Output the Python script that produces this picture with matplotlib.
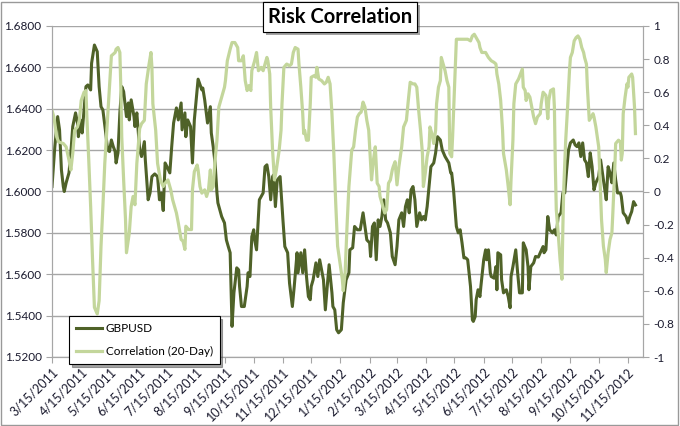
import pandas as pd
import matplotlib
matplotlib.use("Agg")
import matplotlib.pyplot as plt
import matplotlib.patheffects as pe
from matplotlib.patches import Rectangle

start = pd.Timestamp("2011-03-15")

# days since 3/15/2011
gbp_day = [0, 3, 6, 8, 10, 12, 13, 15, 18, 20, 22, 25, 27, 28, 30, 32, 34, 36, 38, 41,
           42, 45, 48, 50, 52, 54, 57, 59, 61, 63, 65, 67, 68, 70, 72, 74, 76, 79, 81, 82,
           84, 87, 88, 90, 93, 95, 98, 99, 102, 104, 106, 109, 112, 114, 116, 118, 120, 122, 125, 127,
           129, 132, 134, 137, 138, 141, 142, 144, 147, 149, 151, 155, 159, 160, 162, 165, 168, 169, 171, 173,
           175, 176, 180, 183, 185, 187, 189, 191, 193, 196, 198, 199, 201, 204, 207, 208, 210, 212, 214, 215,
           217, 220, 222, 224, 226, 228, 230, 232, 234, 235, 237, 239, 242, 244, 245, 247, 250, 252, 255, 257,
           260, 261, 264, 266, 268, 270, 272, 274, 275, 277, 280, 282, 284, 286, 288, 290, 292, 294, 297, 298,
           300, 302, 304, 307, 309, 312, 315, 316, 319, 321, 324, 327, 330, 332, 334, 337, 338, 340, 342, 344,
           346, 348, 350, 352, 354, 356, 359, 361, 364, 366, 368, 371, 373, 375, 377, 379, 381, 383, 385, 387,
           390, 392, 394, 396, 398, 400, 402, 405, 407, 409, 412, 414, 417, 419, 421, 423, 424, 426, 429, 431,
           433, 435, 437, 439, 441, 444, 446, 447, 449, 450, 452, 454, 455, 458, 460, 461, 463, 465, 466, 469,
           471, 472, 473, 476, 477, 479, 482, 484, 486, 487, 489, 492, 494, 496, 499, 500, 503, 505, 506, 508,
           511, 513, 516, 518, 521, 522, 524, 526, 528, 531, 533, 535, 537, 540, 542, 544, 546, 548, 550, 553,
           555, 557, 559, 561, 563, 565, 567, 569, 571, 573, 575, 577, 580, 582, 584, 586, 588, 590, 592, 594,
           596, 598, 600, 603, 604, 606, 609, 611, 613, 615, 617, 619]
gbp_usd = [1.6024, 1.6217, 1.6362, 1.6298, 1.6104, 1.6024, 1.6000, 1.6042, 1.6090, 1.6187,
           1.6314, 1.6380, 1.6331, 1.6265, 1.6346, 1.6283, 1.6394, 1.6507, 1.6515, 1.6491,
           1.6620, 1.6708, 1.6676, 1.6507, 1.6410, 1.6394, 1.6283, 1.6201, 1.6193, 1.6249,
           1.6217, 1.6193, 1.6138, 1.6187, 1.6380, 1.6507, 1.6483, 1.6362, 1.6428, 1.6346,
           1.6443, 1.6362, 1.6314, 1.6380, 1.6201, 1.6169, 1.6241, 1.6153, 1.5960, 1.5993,
           1.6072, 1.6085, 1.6072, 1.5960, 1.5993, 1.5908, 1.6138, 1.6120, 1.6090, 1.6217,
           1.6331, 1.6404, 1.6346, 1.6428, 1.6298, 1.6380, 1.6265, 1.6346, 1.6314, 1.6138,
           1.6346, 1.6543, 1.6491, 1.6500, 1.6443, 1.6331, 1.6410, 1.6283, 1.6217, 1.6138,
           1.5993, 1.5945, 1.5879, 1.5848, 1.5766, 1.5734, 1.5704, 1.5348, 1.5510, 1.5631,
           1.5621, 1.5541, 1.5444, 1.5444, 1.5541, 1.5607, 1.5589, 1.5782, 1.5815, 1.5766,
           1.5718, 1.5960, 1.5976, 1.5993, 1.6120, 1.6129, 1.6072, 1.5960, 1.6072, 1.6080,
           1.5927, 1.6056, 1.6072, 1.5927, 1.5863, 1.5734, 1.5704, 1.5557, 1.5444, 1.5541,
           1.5704, 1.5607, 1.5704, 1.5607, 1.5718, 1.5589, 1.5492, 1.5477, 1.5541, 1.5573,
           1.5655, 1.5589, 1.5670, 1.5621, 1.5573, 1.5428, 1.5541, 1.5646, 1.5510, 1.5444,
           1.5428, 1.5332, 1.5317, 1.5332, 1.5462, 1.5573, 1.5607, 1.5718, 1.5728, 1.5831,
           1.5815, 1.5815, 1.5897, 1.5831, 1.5766, 1.5752, 1.5686, 1.5831, 1.5848, 1.5670,
           1.5863, 1.5831, 1.5879, 1.5960, 1.5863, 1.5848, 1.5800, 1.5686, 1.5646, 1.5734,
           1.5863, 1.5897, 1.5831, 1.5927, 1.5960, 1.5897, 1.6008, 1.6024, 1.5960, 1.5831,
           1.5897, 1.5863, 1.5879, 1.5863, 1.5927, 1.6024, 1.6120, 1.6138, 1.6187, 1.6265,
           1.6249, 1.6201, 1.6169, 1.6153, 1.6138, 1.6090, 1.6090, 1.6008, 1.5831, 1.5800,
           1.5815, 1.5752, 1.5679, 1.5679, 1.5670, 1.5541, 1.5380, 1.5372, 1.5396, 1.5477,
           1.5525, 1.5492, 1.5541, 1.5670, 1.5718, 1.5670, 1.5718, 1.5607, 1.5589, 1.5581,
           1.5637, 1.5525, 1.5704, 1.5694, 1.5573, 1.5510, 1.5525, 1.5492, 1.5438, 1.5589,
           1.5637, 1.5718, 1.5607, 1.5510, 1.5510, 1.5752, 1.5718, 1.5637, 1.5525, 1.5637,
           1.5655, 1.5686, 1.5683, 1.5704, 1.5734, 1.5704, 1.5718, 1.5879, 1.5815, 1.5800,
           1.5815, 1.5790, 1.5879, 1.5897, 1.5993, 1.5993, 1.6104, 1.6201, 1.6235, 1.6249,
           1.6225, 1.6217, 1.6235, 1.6169, 1.6235, 1.6153, 1.6138, 1.6072, 1.6187, 1.6120,
           1.6008, 1.6042, 1.6072, 1.6153, 1.6090, 1.6024, 1.5960, 1.6120, 1.6090, 1.6042,
           1.6138, 1.6056, 1.5993, 1.5993, 1.5976, 1.5897, 1.5879, 1.5848, 1.5879, 1.5903,
           1.5951, 1.5935]

corr_day = [0, 2, 5, 7, 12, 15, 18, 20, 22, 24, 27, 29, 31, 34, 36, 37, 39, 41, 43, 45,
            48, 50, 52, 54, 56, 59, 61, 63, 67, 68, 70, 72, 73, 74, 76, 78, 79, 81, 82, 84,
            86, 88, 90, 93, 95, 98, 100, 103, 105, 106, 107, 110, 112, 115, 118, 120, 123, 126, 128, 132,
            134, 137, 139, 141, 142, 145, 148, 149, 151, 154, 155, 157, 159, 162, 164, 166, 168, 169, 171, 173,
            175, 177, 180, 183, 184, 186, 189, 191, 194, 197, 198, 201, 203, 205, 207, 209, 211, 212, 215, 217,
            219, 222, 224, 226, 228, 229, 231, 232, 234, 236, 238, 241, 243, 244, 246, 249, 252, 254, 256, 258,
            261, 262, 264, 266, 267, 268, 270, 272, 274, 275, 278, 280, 281, 283, 286, 289, 291, 293, 295, 297,
            299, 301, 303, 306, 308, 309, 311, 313, 315, 318, 320, 322, 324, 326, 328, 330, 332, 334, 336, 338,
            339, 341, 343, 345, 347, 348, 351, 353, 355, 357, 359, 361, 362, 364, 366, 368, 371, 373, 376, 378,
            380, 383, 385, 387, 389, 391, 393, 394, 396, 398, 400, 401, 403, 405, 407, 408, 410, 412, 413, 416,
            417, 419, 421, 422, 424, 425, 427, 429, 431, 435, 438, 441, 444, 446, 448, 450, 453, 454, 456, 460,
            463, 466, 469, 471, 472, 474, 476, 478, 479, 482, 484, 486, 487, 489, 490, 492, 495, 497, 499, 500,
            502, 503, 505, 507, 509, 511, 513, 515, 518, 519, 521, 524, 526, 527, 529, 532, 533, 534, 535, 537,
            539, 541, 542, 543, 545, 547, 549, 550, 552, 554, 556, 558, 560, 562, 564, 565, 567, 568, 570, 572,
            574, 575, 577, 580, 581, 583, 585, 587, 588, 590, 592, 594, 595, 597, 598, 601, 603, 604, 605, 606,
            608, 610, 611, 612, 615, 616, 618, 619]
corr_20d = [0.49, 0.45, 0.33, 0.30, 0.29, 0.27, 0.19, 0.13, 0.23, 0.37,
            0.39, 0.43, 0.55, 0.60, 0.61, 0.45, 0.19, -0.09, -0.41, -0.70,
            -0.74, -0.66, -0.33, -0.09, 0.17, 0.45, 0.63, 0.82, 0.84, 0.86,
            0.87, 0.84, 0.63, 0.33, 0.07, -0.17, -0.37, -0.29, -0.25, -0.09,
            -0.03, -0.08, 0.17, 0.38, 0.41, 0.43, 0.65, 0.77, 0.84, 0.75,
            0.53, 0.37, 0.17, 0.07, 0.03, 0.05, 0.07, 0.01, -0.05, -0.13,
            -0.19, -0.29, -0.30, -0.35, -0.21, -0.23, -0.23, 0.01, 0.12, 0.16,
            0.13, 0.03, -0.01, 0.01, -0.03, 0.01, 0.13, 0.01, 0.03, 0.19,
            0.31, 0.51, 0.57, 0.63, 0.67, 0.79, 0.86, 0.90, 0.90, 0.87,
            0.79, 0.79, 0.82, 0.67, 0.61, 0.64, 0.61, 0.73, 0.79, 0.84,
            0.73, 0.75, 0.73, 0.77, 0.81, 0.79, 0.71, 0.51, 0.25, 0.07,
            0.13, 0.25, 0.37, 0.53, 0.75, 0.77, 0.76, 0.77, 0.84, 0.87,
            0.86, 0.77, 0.63, 0.47, 0.35, 0.37, 0.31, 0.31, 0.53, 0.69,
            0.70, 0.69, 0.75, 0.68, 0.67, 0.65, 0.66, 0.69, 0.65, 0.47,
            0.23, -0.07, -0.33, -0.45, -0.53, -0.60, -0.49, -0.21, 0.03, 0.25,
            0.27, 0.37, 0.45, 0.47, 0.48, 0.54, 0.51, 0.43, 0.37, 0.17,
            0.07, 0.19, 0.27, 0.05, 0.03, -0.03, -0.09, -0.13, -0.11, 0.05,
            0.07, 0.13, 0.15, 0.18, 0.04, 0.15, 0.27, 0.39, 0.43, 0.55,
            0.66, 0.65, 0.65, 0.63, 0.49, 0.37, 0.23, 0.03, 0.11, 0.21,
            0.27, 0.39, 0.35, 0.29, 0.37, 0.53, 0.63, 0.67, 0.81, 0.75,
            0.73, 0.67, 0.63, 0.23, 0.21, 0.33, 0.63, 0.92, 0.92, 0.92,
            0.92, 0.92, 0.91, 0.94, 0.95, 0.93, 0.90, 0.87, 0.84, 0.84,
            0.81, 0.79, 0.78, 0.77, 0.71, 0.65, 0.55, 0.37, 0.23, 0.13,
            0.03, -0.08, 0.07, 0.31, 0.53, 0.65, 0.68, 0.71, 0.74, 0.63,
            0.61, 0.55, 0.59, 0.57, 0.51, 0.45, 0.41, 0.45, 0.47, 0.53,
            0.60, 0.58, 0.44, 0.55, 0.61, 0.62, 0.51, 0.15, -0.11, -0.25,
            -0.41, -0.53, -0.21, 0.03, 0.31, 0.51, 0.73, 0.81, 0.84, 0.91,
            0.93, 0.94, 0.92, 0.87, 0.84, 0.81, 0.77, 0.63, 0.43, 0.45,
            0.47, 0.45, 0.39, 0.27, 0.13, -0.17, -0.33, -0.41, -0.49, -0.37,
            -0.29, -0.25, -0.13, 0.13, 0.29, 0.31, 0.30, 0.19, 0.23, 0.47,
            0.57, 0.65, 0.63, 0.69, 0.71, 0.69, 0.51, 0.35]

tick_labels = ["3/15/2011", "4/15/2011", "5/15/2011", "6/15/2011", "7/15/2011",
               "8/15/2011", "9/15/2011", "10/15/2011", "11/15/2011", "12/15/2011",
               "1/15/2012", "2/15/2012", "3/15/2012", "4/15/2012", "5/15/2012",
               "6/15/2012", "7/15/2012", "8/15/2012", "9/15/2012", "10/15/2012",
               "11/15/2012"]

gbp_dates = start + pd.to_timedelta(gbp_day, unit="D")
corr_dates = start + pd.to_timedelta(corr_day, unit="D")
tick_dates = pd.to_datetime(tick_labels, format="%m/%d/%Y")

plt.rcParams["font.family"] = ["Lato", "DejaVu Sans"]

fig = plt.figure(figsize=(6.8, 4.26), dpi=100)
ax = fig.add_axes([52 / 680, 1 - 357 / 426, (643 - 52) / 680, (357 - 26) / 426])
ax2 = ax.twinx()

dark = "#4F6228"
light = "#C3D69B"
grid_c = "#A6A6A6"

l1, = ax.plot(gbp_dates, gbp_usd, color=dark, lw=2.2, label="GBPUSD")
l2, = ax2.plot(corr_dates, corr_20d, color=light, lw=2.3, label="Correlation (20-Day)")

ax.set_xlim(start, pd.Timestamp("2012-12-01"))
ax.set_ylim(1.52, 1.68)
ax.set_yticks([1.52 + 0.02 * i for i in range(9)])
ax.set_yticklabels([f"{1.52 + 0.02 * i:.4f}" for i in range(9)])
ax2.set_ylim(-1, 1)
ax2.set_yticks([-1 + 0.2 * i for i in range(11)])
ax2.set_yticklabels([f"{round(-1 + 0.2 * i, 1):g}" for i in range(11)])

ax.set_xticks(tick_dates)
ax.set_xticklabels(tick_labels, rotation=45, ha="right", rotation_mode="anchor")

ax.yaxis.grid(True, color=grid_c, lw=1)
ax.set_axisbelow(True)
for a in (ax, ax2):
    a.spines["top"].set_visible(False)
    for s in ("left", "right", "bottom"):
        a.spines[s].set_color(grid_c)
    a.tick_params(colors=grid_c, labelcolor="#1a1a2e", labelsize=8.5, length=4)
ax.tick_params(axis="x", labelsize=9, pad=2)

title = fig.text(340 / 680, 1 - 17 / 426, "Risk Correlation", ha="center", va="center",
                 fontsize=14.5, fontweight="bold", color="black",
                 bbox=dict(boxstyle="square,pad=0.25", fc="white", ec="black", lw=0.8))
title.get_bbox_patch().set_path_effects([pe.withSimplePatchShadow(offset=(2, -2), alpha=0.5), pe.Normal()])

leg = fig.legend([l1, l2], ["GBPUSD", "Correlation (20-Day)"], loc="lower left",
                 bbox_to_anchor=(63 / 680, 1 - 370 / 426), fontsize=8.5, handlelength=2.2,
                 frameon=True, fancybox=False, shadow=True, labelspacing=1.0,
                 borderpad=0.6, handletextpad=0.3)
leg.get_frame().set_edgecolor("black")
leg.get_frame().set_linewidth(0.8)

fig.add_artist(Rectangle((0.002, 0.003), 0.995, 0.993, transform=fig.transFigure,
                         fill=False, ec="#999999", lw=1))

fig.savefig("out.png", dpi=100)
